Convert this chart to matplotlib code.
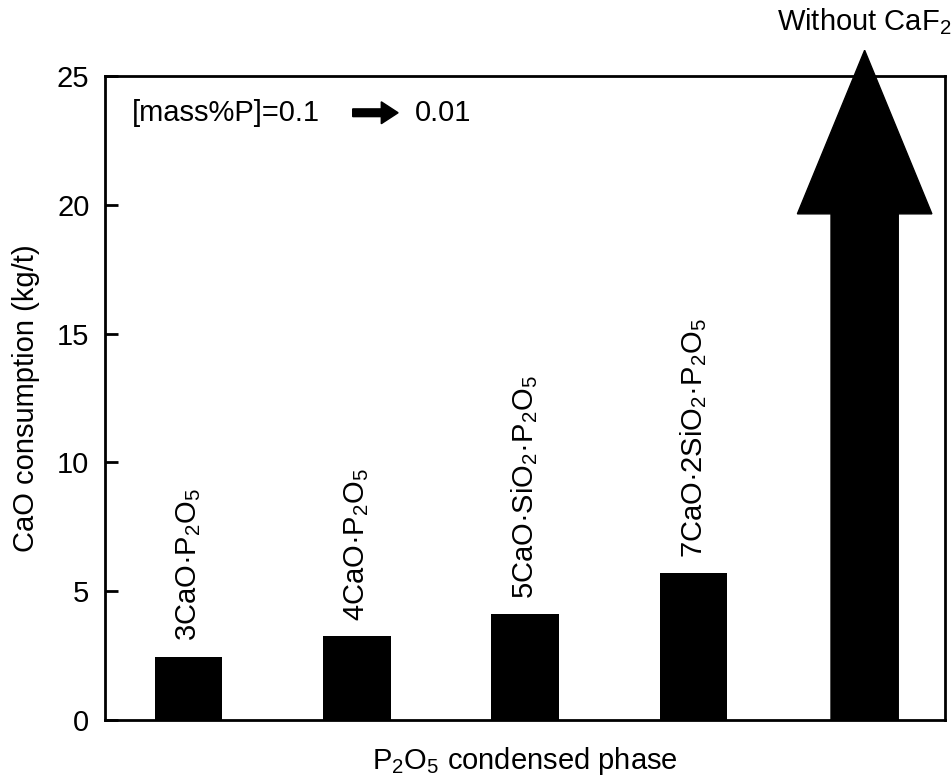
import matplotlib
matplotlib.use('Agg')
import matplotlib.pyplot as plt
from matplotlib.patches import FancyArrow

plt.rcParams['font.family'] = ['Liberation Sans', 'DejaVu Sans']
plt.rcParams['mathtext.default'] = 'regular'

# data
phases = ['3CaO·P$_2$O$_5$', '4CaO·P$_2$O$_5$', '5CaO·SiO$_2$·P$_2$O$_5$',
          '7CaO·2SiO$_2$·P$_2$O$_5$']
cao_use = [2.45, 3.26, 4.1, 5.69]
no_caf2_label = 'Without CaF$_2$'
no_caf2_tip = 26.0      # off the scale, drawn as an arrow
no_caf2_head = 19.65    # where the arrow head starts
yticks = [0, 5, 10, 15, 20, 25]

FS = 21

fig = plt.figure(figsize=(9.52, 7.84), dpi=100)
ax = fig.add_axes([0.110, 0.0816, 0.883, 0.8214])

xs = list(range(len(phases)))
ax.bar(xs, cao_use, width=0.4, color='black')
for x, v, lab in zip(xs, cao_use, phases):
    ax.text(x, v + 0.6, lab, rotation=90, ha='center', va='bottom', fontsize=FS)

# big arrow for the case without CaF2
xa = len(phases) + 0.02
arr = FancyArrow(xa, 0, 0, no_caf2_tip, width=0.4, head_width=0.8,
                 head_length=no_caf2_tip - no_caf2_head,
                 length_includes_head=True, color='black', clip_on=False, zorder=3)
ax.add_patch(arr)
ax.text(xa, 26.5, no_caf2_label, ha='center', va='bottom', fontsize=FS)

# mass%P note with small arrow
ax.text(0.032, 0.943, '[mass%P]=0.1', transform=ax.transAxes, ha='left',
        va='center', fontsize=FS)
small = FancyArrow(0.295, 0.943, 0.054, 0, width=0.012, head_width=0.034,
                   head_length=0.02, length_includes_head=True,
                   transform=ax.transAxes, color='black')
ax.add_patch(small)
ax.text(0.369, 0.943, '0.01', transform=ax.transAxes, ha='left',
        va='center', fontsize=FS)

ax.set_xlim(-0.5, 4.5)
ax.set_ylim(0, 25)
ax.set_yticks(yticks)
ax.set_xticks([])
ax.tick_params(axis='y', direction='in', length=9, width=2, labelsize=FS, pad=11)
for s in ax.spines.values():
    s.set_linewidth(2)
ax.set_ylabel('CaO consumption (kg/t)', fontsize=FS, labelpad=12)
ax.set_xlabel('P$_2$O$_5$ condensed phase', fontsize=FS, labelpad=18)

fig.savefig('out.png', dpi=100)
